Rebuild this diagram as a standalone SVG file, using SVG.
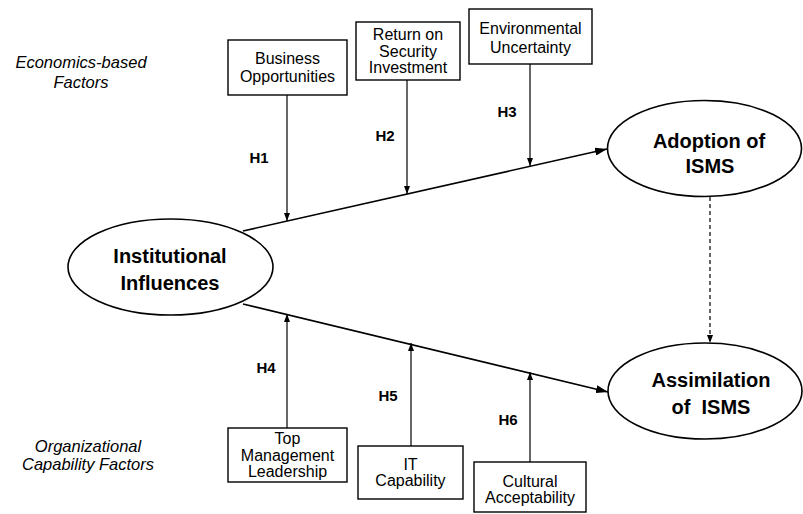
<svg xmlns="http://www.w3.org/2000/svg" width="803" height="514" viewBox="0 0 803 514">
<style>
  .box{fill:#fff;stroke:#000;stroke-width:1.4}
  .ell{fill:#fff;stroke:#000;stroke-width:1.6}
  .bt{font-family:"Liberation Sans",Arial,sans-serif;font-size:16px;text-anchor:middle;fill:#000}
  .et{font-family:"Liberation Sans",Arial,sans-serif;font-size:20px;font-weight:bold;text-anchor:middle;fill:#000}
  .h{font-family:"Liberation Sans",Arial,sans-serif;font-size:15px;font-weight:bold;text-anchor:middle;fill:#000}
  .cat{font-family:"Liberation Sans",Arial,sans-serif;font-size:16.5px;font-style:italic;text-anchor:middle;fill:#000}
  .main{stroke:#000;stroke-width:1.6;fill:none}
  .thin{stroke:#000;stroke-width:1.2;fill:none}
</style>
<defs>
  <marker id="big" viewBox="0 0 12 8" refX="12" refY="4" markerWidth="12" markerHeight="8" markerUnits="userSpaceOnUse" orient="auto">
    <path d="M0,0 L12,4 L0,8 Z" fill="#000"/>
  </marker>
  <marker id="small" viewBox="0 0 8 6" refX="8" refY="3" markerWidth="8" markerHeight="6" markerUnits="userSpaceOnUse" orient="auto">
    <path d="M0,0 L8,3 L0,6 Z" fill="#000"/>
  </marker>
</defs>

<g id="labels">
  <text class="cat" x="81" y="68">Economics-based</text>
  <text class="cat" x="81" y="88">Factors</text>
  <text class="cat" x="88" y="452">Organizational</text>
  <text class="cat" x="88" y="470">Capability Factors</text>
</g>

<g id="connectors">
  <line class="main" x1="243" y1="231" x2="607" y2="149" marker-end="url(#big)"/>
  <line class="main" x1="243" y1="304" x2="608" y2="392" marker-end="url(#big)"/>
  <line class="thin" x1="710" y1="197" x2="710" y2="343" stroke-dasharray="4,3" marker-end="url(#small)"/>
  <line class="thin" x1="287" y1="95" x2="287" y2="221" marker-end="url(#small)"/>
  <line class="thin" x1="407" y1="80" x2="407" y2="194" marker-end="url(#small)"/>
  <line class="thin" x1="530" y1="64" x2="530" y2="166" marker-end="url(#small)"/>
  <line class="thin" x1="287" y1="428" x2="287" y2="314" marker-end="url(#small)"/>
  <line class="thin" x1="411" y1="446" x2="411" y2="343" marker-end="url(#small)"/>
  <line class="thin" x1="530" y1="462" x2="530" y2="372" marker-end="url(#small)"/>
  <text class="h" x="259" y="163">H1</text>
  <text class="h" x="385" y="141">H2</text>
  <text class="h" x="507" y="117">H3</text>
  <text class="h" x="266" y="373">H4</text>
  <text class="h" x="388" y="401">H5</text>
  <text class="h" x="508" y="425">H6</text>
</g>

<g id="business-opportunities">
  <rect class="box" x="228" y="40" width="119" height="55"/>
  <text class="bt" x="287.5" y="64">Business</text>
  <text class="bt" x="287.5" y="82">Opportunities</text>
</g>
<g id="return-on-security-investment">
  <rect class="box" x="356" y="22" width="104" height="58"/>
  <text class="bt" x="408" y="40">Return on</text>
  <text class="bt" x="408" y="57">Security</text>
  <text class="bt" x="408" y="73">Investment</text>
</g>
<g id="environmental-uncertainty">
  <rect class="box" x="469" y="9" width="123" height="55"/>
  <text class="bt" x="530.5" y="34">Environmental</text>
  <text class="bt" x="530.5" y="53">Uncertainty</text>
</g>

<g id="institutional-influences">
  <ellipse class="ell" cx="170.5" cy="267" rx="102.5" ry="48"/>
  <text class="et" x="170" y="263">Institutional</text>
  <text class="et" x="170" y="290">Influences</text>
</g>
<g id="adoption-of-isms">
  <ellipse class="ell" cx="704.5" cy="148.5" rx="97" ry="48"/>
  <text class="et" x="709" y="148">Adoption of</text>
  <text class="et" x="710" y="173">ISMS</text>
</g>
<g id="assimilation-of-isms">
  <ellipse class="ell" cx="705" cy="391" rx="97" ry="48"/>
  <text class="et" x="711" y="387">Assimilation</text>
  <text class="et" x="711" y="414" xml:space="preserve">of  ISMS</text>
</g>

<g id="top-management-leadership">
  <rect class="box" x="228" y="428" width="119" height="54"/>
  <text class="bt" x="287.5" y="444">Top</text>
  <text class="bt" x="287.5" y="461">Management</text>
  <text class="bt" x="287.5" y="477">Leadership</text>
</g>
<g id="it-capability">
  <rect class="box" x="358" y="446" width="105" height="53"/>
  <text class="bt" x="410.5" y="470">IT</text>
  <text class="bt" x="410.5" y="486">Capability</text>
</g>
<g id="cultural-acceptability">
  <rect class="box" x="474" y="462" width="112" height="50"/>
  <text class="bt" x="530" y="487">Cultural</text>
  <text class="bt" x="530" y="503">Acceptability</text>
</g>
</svg>
